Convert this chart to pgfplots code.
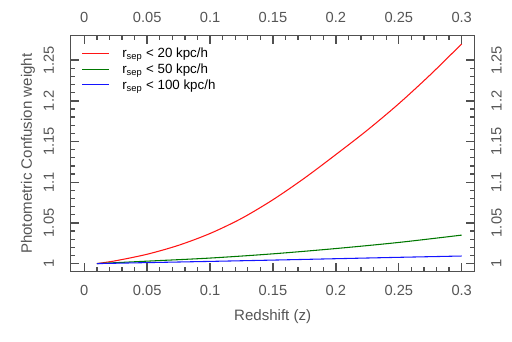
\documentclass[border=0pt]{standalone}
\usepackage{fontspec}
\setmainfont{Liberation Sans}
\newfontfamily\grayfont{Liberation Sans}[Color=555555]
\usepackage{pgfplots}
\pgfplotsset{compat=1.18}

\definecolor{cred}{RGB}{255,20,20}
\definecolor{cgreen}{RGB}{0,120,0}
\definecolor{cblue}{RGB}{20,20,255}
\definecolor{axgray}{RGB}{80,80,80}

\pgfplotsset{
  myframe/.style={
    scale only axis, width=303pt, height=177pt,
    xmin=-0.0108, xmax=0.3103, ymin=0.99, ymax=1.28,
    xtick={0,0.05,...,0.3}, ytick={1,1.05,...,1.25},
    minor x tick num=4, minor y tick num=4,
    tick align=inside,
    major tick length=6.5pt, minor tick length=3.2pt,
    axis line style={color=axgray, line width=0.9pt},
    tick style={color=axgray, line width=1pt},
    tick label style={font=\grayfont\fontsize{11}{13}\selectfont},
    /pgf/number format/assume math mode=true,
    scaled ticks=false,
    xticklabel style={/pgf/number format/fixed},
    yticklabel style={/pgf/number format/fixed, rotate=90},
  }
}

\begin{document}
\begin{tikzpicture}
\useasboundingbox (-53.0pt,-52.7pt) rectangle (331.0pt,203.8pt);
\begin{axis}[myframe, axis on top,
  xticklabel pos=lower, yticklabel pos=left,
  xticklabel style={yshift=-6.5pt},
  yticklabel style={anchor=south, yshift=9pt},
  xlabel={Redshift (z)}, ylabel={Photometric Confusion weight},
  every axis x label/.style={at={([yshift=-34pt]axis description cs:0.5,0)}, anchor=center, font=\grayfont\fontsize{11.3}{13}\selectfont},
  every axis y label/.style={at={([xshift=-32pt]axis description cs:0,0.5)}, rotate=90, anchor=center, font=\grayfont\fontsize{11.3}{13}\selectfont},
]
\addplot[color=cred, line width=0.8pt, smooth] coordinates {
(0.01,1.0000) (0.025,1.0035) (0.05,1.0115) (0.075,1.0225) (0.1,1.0370)
(0.125,1.0555) (0.15,1.0785) (0.175,1.1050) (0.2,1.1340) (0.225,1.1640)
(0.25,1.1965) (0.275,1.2320) (0.3,1.2700)};
\addplot[color=cgreen, line width=0.8pt, smooth] coordinates {
(0.01,1.0000) (0.05,1.0030) (0.1,1.0068) (0.15,1.0120) (0.2,1.0185) (0.25,1.0260) (0.3,1.0350)};
\addplot[color=cblue, line width=0.8pt, smooth] coordinates {
(0.01,1.0000) (0.05,1.0012) (0.1,1.0027) (0.15,1.0043) (0.2,1.0060) (0.25,1.0077) (0.3,1.0093)};
% legend, drawn inside the axis after the curves
\draw[color=cred, line width=0.8pt] (rel axis cs:0.0281,0.9266) -- (rel axis cs:0.0947,0.9266);
\draw[color=cgreen, line width=0.8pt] (rel axis cs:0.0281,0.8588) -- (rel axis cs:0.0947,0.8588);
\draw[color=cblue, line width=0.8pt] (rel axis cs:0.0281,0.7932) -- (rel axis cs:0.0947,0.7932);
\node[anchor=base west, inner sep=0pt, font=\fontsize{10}{11}\selectfont] at (rel axis cs:0.1271,0.9062) {r\textsubscript{sep} < 20 kpc/h};
\node[anchor=base west, inner sep=0pt, font=\fontsize{10}{11}\selectfont] at (rel axis cs:0.1271,0.8384) {r\textsubscript{sep} < 50 kpc/h};
\node[anchor=base west, inner sep=0pt, font=\fontsize{10}{11}\selectfont] at (rel axis cs:0.1271,0.7729) {r\textsubscript{sep} < 100 kpc/h};
\end{axis}
% second frame: top and right tick labels
\begin{axis}[myframe,
  xticklabel pos=upper, yticklabel pos=right,
  xticklabel style={yshift=6pt},
  yticklabel style={anchor=north, yshift=-9pt},
  axis line style={draw=none}, major tick length=0pt, minor tick length=0pt,
]
\end{axis}
\end{tikzpicture}
\end{document}
